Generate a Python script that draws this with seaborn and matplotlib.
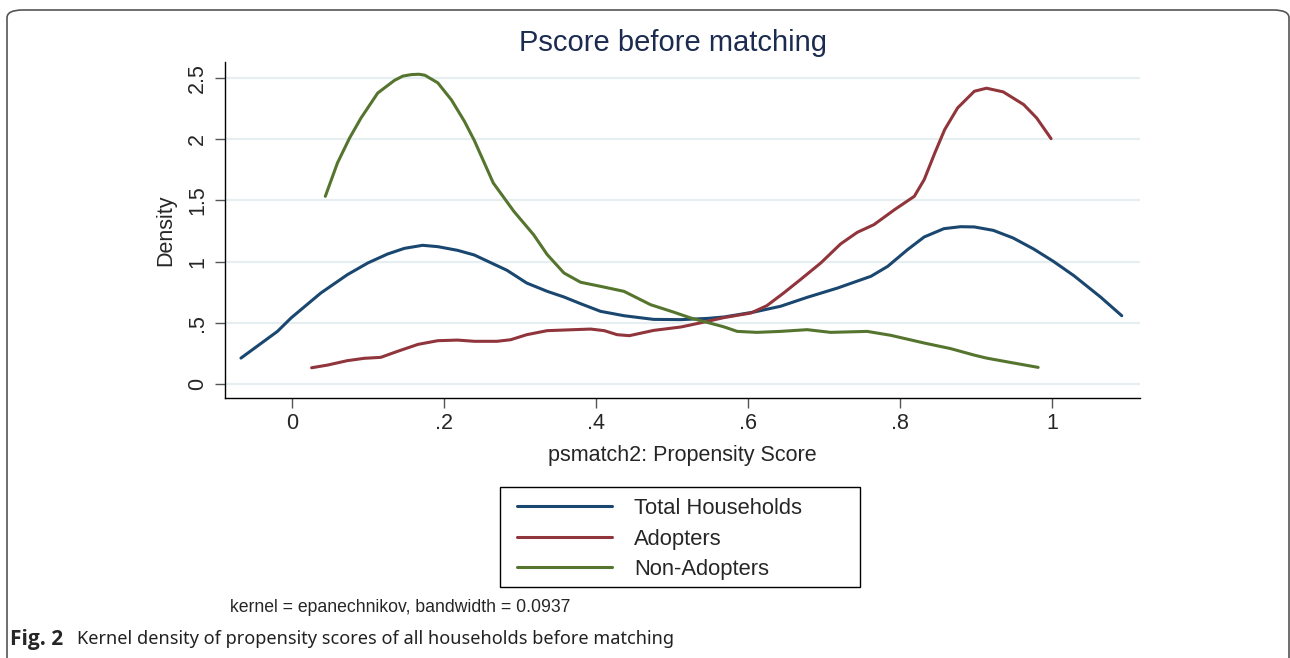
import pandas as pd
import matplotlib.pyplot as plt
import seaborn as sns
from matplotlib.patches import FancyBboxPatch, Rectangle

# --- data (propensity score, density) ---
total_x = [-0.067, -0.019, -0.001, 0.038, 0.073, 0.100, 0.126, 0.148, 0.172, 0.192,
           0.218, 0.240, 0.283, 0.309, 0.336, 0.358, 0.380, 0.406, 0.437, 0.476,
           0.512, 0.547, 0.569, 0.608, 0.643, 0.678, 0.718, 0.762, 0.784, 0.810,
           0.832, 0.858, 0.880, 0.898, 0.923, 0.949, 0.976, 1.002, 1.029, 1.064, 1.092]
total_y = [0.212, 0.430, 0.540, 0.743, 0.893, 0.989, 1.062, 1.108, 1.133, 1.122,
           1.092, 1.054, 0.929, 0.825, 0.757, 0.711, 0.656, 0.594, 0.558, 0.528,
           0.526, 0.536, 0.548, 0.588, 0.635, 0.708, 0.784, 0.880, 0.961, 1.097,
           1.201, 1.269, 1.285, 1.283, 1.255, 1.193, 1.103, 1.002, 0.885, 0.711, 0.558]

adopt_x = [0.026, 0.047, 0.073, 0.095, 0.117, 0.139, 0.166, 0.192, 0.218, 0.240,
           0.270, 0.288, 0.309, 0.336, 0.371, 0.393, 0.411, 0.428, 0.444, 0.476,
           0.512, 0.547, 0.568, 0.604, 0.625, 0.647, 0.669, 0.696, 0.722, 0.744,
           0.766, 0.793, 0.819, 0.832, 0.846, 0.859, 0.876, 0.898, 0.914, 0.936,
           0.963, 0.980, 0.999]
adopt_y = [0.133, 0.155, 0.191, 0.210, 0.218, 0.267, 0.324, 0.354, 0.359, 0.349,
           0.349, 0.362, 0.403, 0.436, 0.444, 0.449, 0.436, 0.403, 0.395, 0.438,
           0.466, 0.512, 0.542, 0.580, 0.640, 0.743, 0.852, 0.989, 1.144, 1.239,
           1.302, 1.424, 1.533, 1.669, 1.887, 2.078, 2.255, 2.391, 2.416, 2.386,
           2.282, 2.173, 2.004]

nonad_x = [0.044, 0.060, 0.076, 0.091, 0.113, 0.135, 0.146, 0.157, 0.167, 0.175,
           0.192, 0.210, 0.227, 0.240, 0.265, 0.292, 0.318, 0.336, 0.358, 0.380,
           0.406, 0.437, 0.472, 0.503, 0.525, 0.568, 0.586, 0.612, 0.643, 0.678,
           0.709, 0.757, 0.788, 0.832, 0.867, 0.898, 0.914, 0.945, 0.982]
nonad_y = [1.533, 1.806, 2.010, 2.173, 2.377, 2.480, 2.515, 2.527, 2.530, 2.522,
           2.460, 2.320, 2.146, 1.990, 1.642, 1.411, 1.220, 1.057, 0.907, 0.831,
           0.798, 0.757, 0.648, 0.586, 0.539, 0.468, 0.430, 0.422, 0.430, 0.444,
           0.422, 0.430, 0.398, 0.335, 0.289, 0.236, 0.212, 0.177, 0.136]

groups = ["Total Households", "Adopters", "Non-Adopters"]
colors = ["#1a476f", "#90353b", "#55752f"]

x_ticks = [0, 0.2, 0.4, 0.6, 0.8, 1.0]
x_ticklabels = ["0", ".2", ".4", ".6", ".8", "1"]
y_ticks = [0, 0.5, 1.0, 1.5, 2.0, 2.5]
y_ticklabels = ["0", ".5", "1", "1.5", "2", "2.5"]

df = pd.concat([
    pd.DataFrame({"pscore": total_x, "density": total_y, "group": groups[0]}),
    pd.DataFrame({"pscore": adopt_x, "density": adopt_y, "group": groups[1]}),
    pd.DataFrame({"pscore": nonad_x, "density": nonad_y, "group": groups[2]}),
])

sns.set_style("white")
plt.rcParams['font.family'] = ['Liberation Sans', 'DejaVu Sans']

W, H = 1290, 658
fig = plt.figure(figsize=(W / 100, H / 100), dpi=100)
ax = fig.add_axes([225 / W, 1 - 398 / H, (1140 - 225) / W, (398 - 62) / H])

sns.lineplot(data=df, x="pscore", y="density", hue="group", hue_order=groups,
             palette=colors, estimator=None, sort=False, linewidth=2.2, ax=ax,
             legend=False)

ax.set_xlim(-0.088, 1.116)
ax.set_ylim(-0.114, 2.63)
ax.set_xticks(x_ticks, x_ticklabels)
ax.set_yticks(y_ticks, y_ticklabels)
ax.tick_params(axis="both", labelsize=15.5, length=7, width=1, color="#555555",
               left=True, bottom=True)
ax.tick_params(axis="y", labelrotation=90, pad=5)
for lab in ax.get_yticklabels():
    lab.set_va("center")
ax.grid(axis="y", color="#e6eef2", linewidth=1.6)
ax.grid(axis="x", visible=False)
for side in ["top", "right"]:
    ax.spines[side].set_visible(False)
for side in ["left", "bottom"]:
    ax.spines[side].set_color("black")
    ax.spines[side].set_linewidth(1.0)

ax.set_xlabel("psmatch2: Propensity Score", fontsize=15.5, labelpad=8)
ax.set_ylabel("Density", fontsize=15.5, labelpad=8)

fig.text(673 / W, 1 - 43 / H, "Pscore before matching", ha="center", va="center",
         fontsize=21, color="#1c2b50")

# legend (Stata style, boxed below the plot)
handles = [plt.Line2D([], [], color=c, linewidth=2.2) for c in colors]
fig.legend(handles, groups, loc="center left",
           bbox_to_anchor=(517 / W, 1 - 539 / H), frameon=False,
           fontsize=15.8, handlelength=4.35, handletextpad=1.0,
           labelspacing=0.44, borderpad=0, borderaxespad=0)
fig.patches.append(Rectangle((500 / W, 1 - 587 / H), 360 / W, 100 / H,
                             transform=fig.transFigure, fill=False,
                             edgecolor="black", linewidth=1.0))

fig.text(230 / W, 1 - 607 / H, "kernel = epanechnikov, bandwidth = 0.0937",
         ha="left", va="center", fontsize=12.7)

# caption and outer rounded frame
fig.text(10 / W, 1 - 639 / H, "Fig. 2", ha="left", va="center", fontsize=15,
         fontweight="bold", family="Open Sans")
fig.text(77 / W, 1 - 639 / H,
         "Kernel density of propensity scores of all households before matching",
         ha="left", va="center", fontsize=13.1, family="Noto Sans", color="#222222")
fig.patches.append(FancyBboxPatch((7 / W, -10 / H), 1282 / W, 1.0,
                                  boxstyle="round,pad=0,rounding_size=0.012",
                                  transform=fig.transFigure, fill=False,
                                  edgecolor="#555555", linewidth=1.2))

fig.savefig("out.png", dpi=100)
